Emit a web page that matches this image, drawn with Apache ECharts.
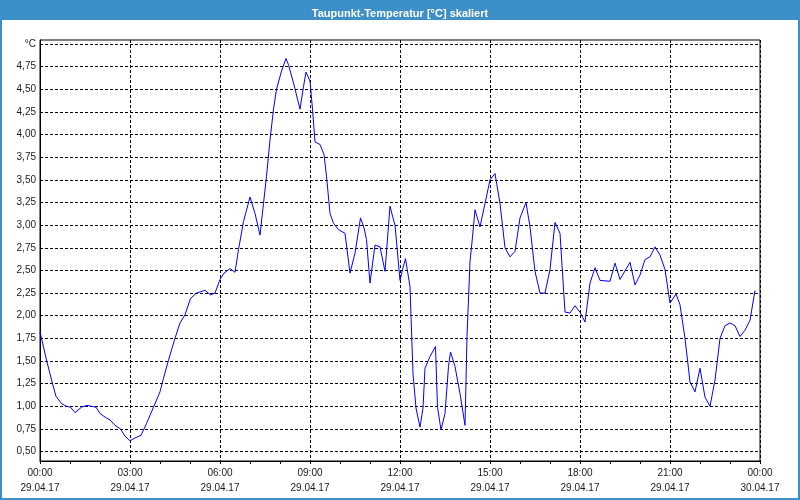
<!DOCTYPE html>
<html><head><meta charset="utf-8">
<script src="https://cdn.jsdelivr.net/npm/echarts@6/dist/echarts.min.js"></script>
<style>html,body{margin:0;padding:0;background:#fff}#c{width:800px;height:500px}</style>
</head><body><div id="c"></div>
<script>
const titleText = 'Taupunkt-Temperatur [°C] skaliert';
const minutes = [0,13,25,32,43,53,61,70,83,94,103,112,120,133,140,150,161,170,180,190,202,213,227,240,247,257,270,280,290,301,313,330,341,350,360,368,380,390,397,407,420,430,440,447,453,460,467,473,483,492,497,507,520,527,532,540,545,550,560,568,573,580,587,597,610,620,630,641,648,653,660,670,680,690,700,705,710,720,725,731,740,746,752,760,766,770,780,791,795,802,810,817,821,830,840,850,854,860,865,870,880,890,900,910,920,930,940,950,960,972,980,990,1000,1010,1020,1030,1040,1050,1060,1070,1080,1090,1100,1110,1120,1140,1150,1160,1180,1190,1200,1210,1220,1230,1240,1250,1260,1272,1280,1290,1300,1310,1320,1330,1340,1350,1360,1370,1380,1390,1400,1410,1420,1430];
const values = [1.82,1.51,1.25,1.11,1.03,1.00,0.99,0.93,0.99,1.01,1.00,0.99,0.92,0.87,0.85,0.79,0.75,0.67,0.62,0.65,0.68,0.81,0.99,1.16,1.31,1.51,1.75,1.92,2.01,2.19,2.25,2.28,2.23,2.25,2.40,2.47,2.52,2.48,2.73,3.04,3.31,3.13,2.89,3.24,3.54,3.94,4.28,4.50,4.70,4.84,4.77,4.57,4.28,4.53,4.69,4.59,4.28,3.92,3.89,3.78,3.54,3.13,3.02,2.95,2.91,2.47,2.69,3.08,2.97,2.84,2.36,2.78,2.76,2.49,3.21,3.10,3.00,2.39,2.51,2.63,2.32,1.36,0.98,0.77,0.98,1.42,1.55,1.66,0.99,0.74,0.92,1.44,1.60,1.44,1.14,0.79,1.77,2.60,2.87,3.17,2.98,3.24,3.50,3.57,3.24,2.75,2.65,2.71,3.08,3.25,2.98,2.49,2.25,2.25,2.51,3.03,2.91,2.04,2.03,2.11,2.04,1.93,2.36,2.53,2.39,2.38,2.58,2.40,2.59,2.34,2.45,2.62,2.65,2.76,2.67,2.51,2.14,2.24,2.12,1.75,1.27,1.16,1.42,1.10,1.00,1.29,1.75,1.89,1.92,1.89,1.77,1.84,1.95,2.28];
const yTicks = [0.5,0.75,1.0,1.25,1.5,1.75,2.0,2.25,2.5,2.75,3.0,3.25,3.5,3.75,4.0,4.25,4.5,4.75,5.0];
const xTicks = [0,180,360,540,720,900,1080,1260,1440];
const xTimes = ['00:00','03:00','06:00','09:00','12:00','15:00','18:00','21:00','00:00'];
const xDates = ['29.04.17','29.04.17','29.04.17','29.04.17','29.04.17','29.04.17','29.04.17','29.04.17','30.04.17'];

const chart = echarts.init(document.getElementById('c'), null, {renderer:'canvas'});
const blue = '#3d8fc8';
const font = 'Liberation Sans';
chart.setOption({
  animation:false,
  backgroundColor:'#ffffff',
  title:{text:titleText,left:'center',top:3,textStyle:{color:'#ffffff',fontSize:11,fontWeight:'bold',fontFamily:font}},
  graphic:[
    {type:'rect',z:-1,shape:{x:0,y:0,width:800,height:20},style:{fill:blue}},
    {type:'rect',z:-1,shape:{x:1,y:1,width:798,height:498},style:{fill:null,stroke:blue,lineWidth:2}}
  ],
  grid:{left:40,right:40,top:40,bottom:39,show:true,borderColor:'#000',borderWidth:1,backgroundColor:'#fff'},
  xAxis:{type:'value',min:0,max:1440,interval:180,
    axisLine:{show:true,lineStyle:{color:'#000',width:1}},
    axisTick:{show:true,length:3,lineStyle:{color:'#000'}},
    minorTick:{show:true,splitNumber:3,length:3,lineStyle:{color:'#000'}},
    splitLine:{show:true,lineStyle:{color:'#000',type:[3,2],width:1}},
    axisLabel:{margin:5,color:'#1a1a1a',fontSize:10,fontFamily:font,lineHeight:15,
      formatter:function(v){const i=xTicks.indexOf(v);return i<0?'':xTimes[i]+'\n'+xDates[i];}}
  },
  yAxis:{type:'value',min:0.396,max:5.044,
    axisLine:{show:true,lineStyle:{color:'#000',width:1}},
    axisTick:{show:false,customValues:yTicks},
    splitLine:{show:true,lineStyle:{color:'#000',type:[3,2],width:1}},
    axisLabel:{customValues:yTicks,margin:4,color:'#1a1a1a',fontSize:10,fontFamily:font,
      formatter:function(v){return Math.abs(v-5)<1e-6?'°C':v.toFixed(2).replace('.',',');}}
  },
  series:[{type:'line',data:minutes.map((m,i)=>[m,values[i]]),symbol:'none',
    lineStyle:{color:'#0000ff',width:1},itemStyle:{color:'#0000ff'}}]
});
</script></body></html>
